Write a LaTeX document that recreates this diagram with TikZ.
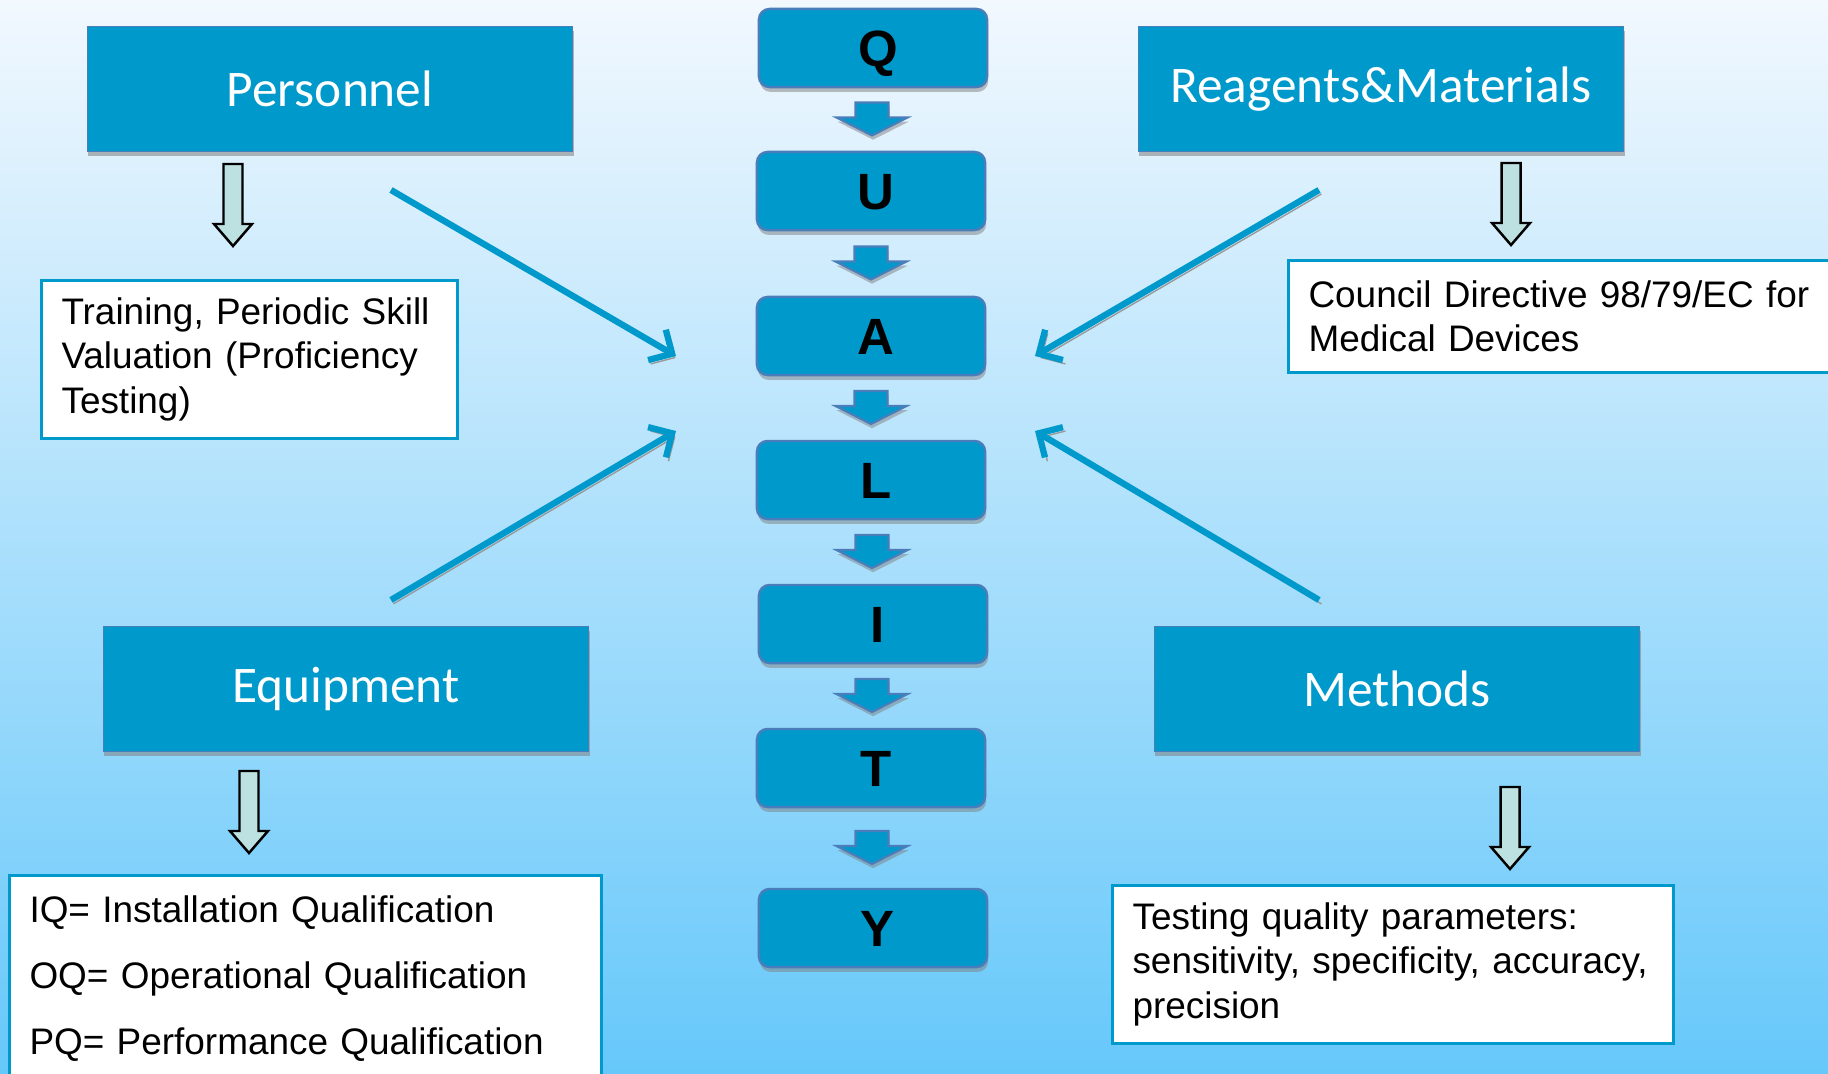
\documentclass[tikz,border=0pt]{standalone}
\usepackage{fontspec}
\setmainfont{Liberation Sans}
\newfontfamily\carlito{Carlito}
\usetikzlibrary{arrows.meta,calc,shadows}
\definecolor{qblue}{HTML}{0099CC}
\definecolor{qedge}{HTML}{4A7EBB}
\definecolor{hollowfill}{HTML}{BDE0E0}
\definecolor{bgtop}{HTML}{F2F8FE}
\definecolor{bgbot}{HTML}{66C8FA}

\begin{document}
\begin{tikzpicture}[x=0.01cm,y=-0.01cm,
    bigbox/.style={fill=qblue,draw=qedge,line width=0.4pt,minimum width=4.85cm,minimum height=1.25cm,
        text=white,font=\carlito\fontsize{14.6}{17}\selectfont,
        drop shadow={shadow xshift=0.3pt,shadow yshift=-1.4pt,fill=black!50,opacity=0.55}},
    letterbox/.style={fill=qblue,draw=qedge,line width=0.7pt,rounded corners=3pt,
        minimum width=2.28cm,minimum height=0.78cm,font=\bfseries\fontsize{14.5}{17}\selectfont,
        text height=10.4pt,text depth=0pt,
        drop shadow={shadow xshift=0.3pt,shadow yshift=-1.4pt,fill=black!50,opacity=0.5}},
    infobox/.style={draw=qblue,line width=0.85pt,fill=white,align=left,anchor=north west,
        inner xsep=0.2cm,inner ysep=0.17cm,font=\fontsize{10.5}{12.7}\selectfont},
    feed/.style={draw=qblue,line width=1.8pt,-{Straight Barb[length=5pt,width=10pt]},
        preaction={draw=black!40,transform canvas={xshift=0.7pt,yshift=-1.1pt}}},
    downblock/.pic={
        \draw[fill=qblue,draw=qedge,line width=0.6pt,
            drop shadow={shadow xshift=0.3pt,shadow yshift=-1.2pt,fill=black!50,opacity=0.5}]
            (-16.5,-17) -- (16.5,-17) -- (16.5,-2) -- (35.5,-2) -- (0,16) -- (-35.5,-2) -- (-16.5,-2) -- cycle;},
    hollowdown/.pic={
        \draw[fill=hollowfill,draw=black,line width=0.7pt]
            (-9.5,-41) -- (9.5,-41) -- (9.5,19) -- (19,19) -- (0,41) -- (-19,19) -- (-9.5,19) -- cycle;}]

    \useasboundingbox (0,0) rectangle (1828,1073);
    \clip (0,0) rectangle (1828,1073);
    \shade[top color=bgtop,bottom color=bgbot] (0,0) rectangle (1828,1073);

    \node[bigbox] (personnel) at (330,89) {Personnel};
    \node[bigbox] (reagents) at (1381,89) {Reagents\&Materials};
    \node[bigbox] (equipment) at (346,689) {Equipment};
    \node[bigbox] (methods) at (1397,689) {Methods};

    \foreach \ch/\cx/\cy [count=\i] in {Q/873/48,U/871/191,A/871/336,L/871/480,I/873/624,T/871/768,Y/873/928}
        \node[letterbox] (q\i) at (\cx,\cy) {\hspace*{2.8pt}\ch};
    \foreach \i in {1,...,6} {
        \pgfmathtruncatemacro\j{\i+1}
        \pic at ($(q\i.south)!.5!(q\j.north)$) {downblock};
    }

    \pic at (233,205) {hollowdown};
    \pic at (1511,204) {hollowdown};
    \pic at (249,812) {hollowdown};
    \pic at (1510,828) {hollowdown};

    \node[infobox,text width=3.76cm] (training) at (40,279)
        {Training, Periodic Skill\\Valuation (Proficiency\\Testing)};
    \node[infobox,text width=5.3cm,inner ysep=0.2cm] (council) at (1287,259)
        {Council Directive 98/79/EC for\\Medical Devices};
    \node[infobox,text width=5.21cm] (testing) at (1111,884)
        {Testing quality parameters:\\sensitivity, specificity, accuracy,\\precision};
    \node[infobox,text width=5.52cm,inner ysep=0.2cm,font=\fontsize{10.5}{18.8}\selectfont] (qualif) at (8,874)
        {IQ= Installation Qualification\\OQ= Operational Qualification\\PQ= Performance Qualification};

    \coordinate (pfrom) at (391,190);
    \coordinate (pto) at (676,356);
    \coordinate (efrom) at (391,600);
    \coordinate (eto) at (676,431);
    \coordinate (rfrom) at (1319,190);
    \coordinate (rto) at (1035,356);
    \coordinate (mfrom) at (1319,600);
    \coordinate (mto) at (1035,431);
    \draw[feed] (pfrom) -- (pto);
    \draw[feed] (efrom) -- (eto);
    \draw[feed] (rfrom) -- (rto);
    \draw[feed] (mfrom) -- (mto);
\end{tikzpicture}
\end{document}
